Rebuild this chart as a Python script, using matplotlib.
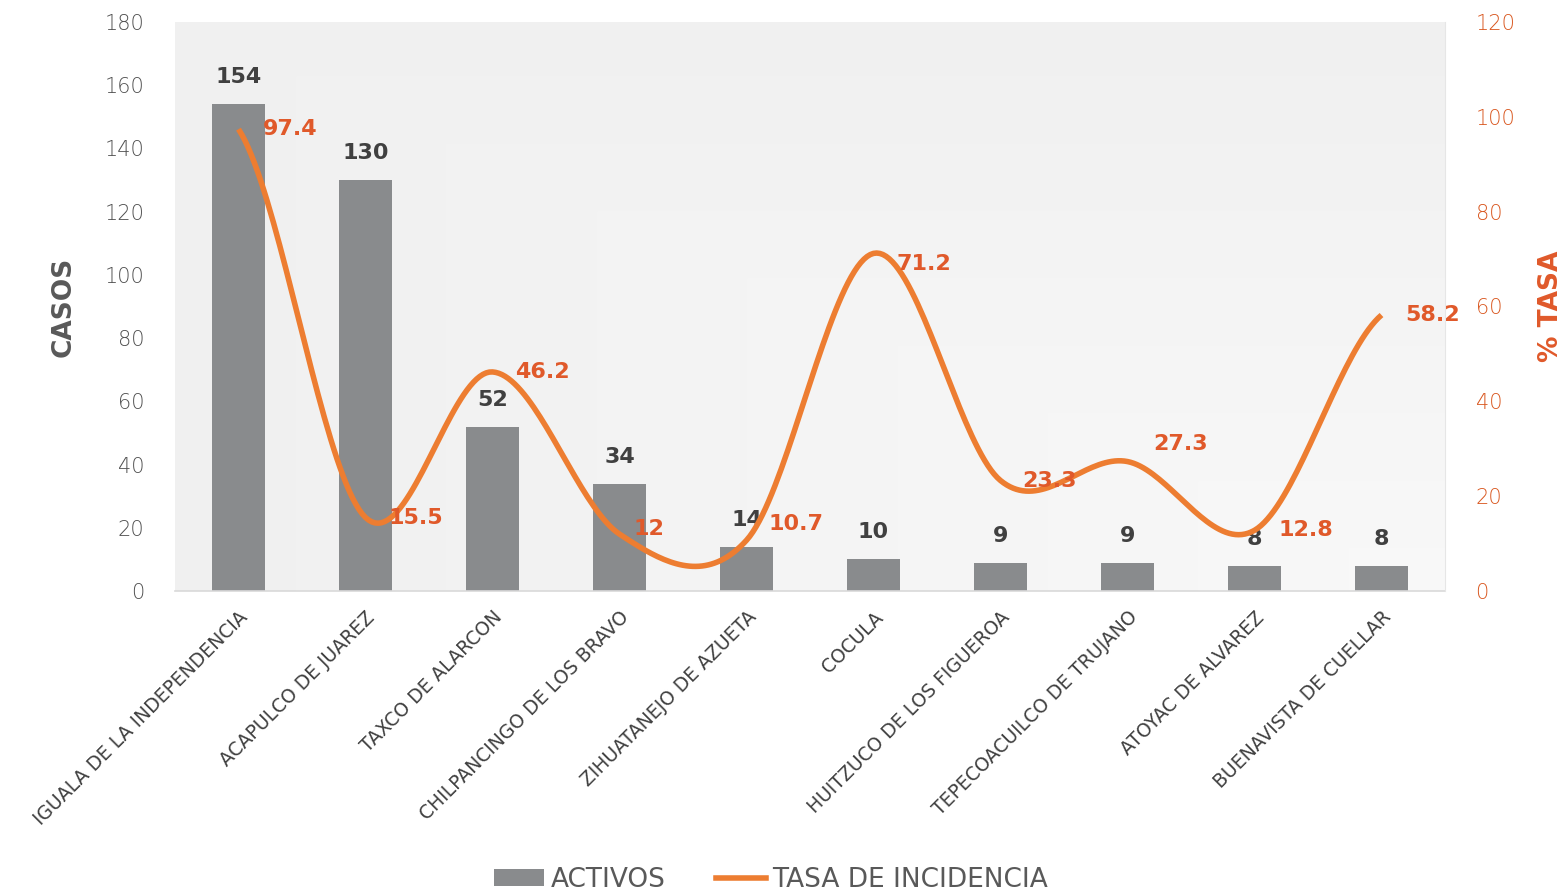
import numpy as np
import matplotlib
matplotlib.use("Agg")
import matplotlib.pyplot as plt
from matplotlib.patches import Patch
from matplotlib.lines import Line2D

categories = ["IGUALA DE LA INDEPENDENCIA", "ACAPULCO DE JUAREZ", "TAXCO DE ALARCON",
              "CHILPANCINGO DE LOS BRAVO", "ZIHUATANEJO DE AZUETA", "COCULA",
              "HUITZUCO DE LOS FIGUEROA", "TEPECOACUILCO DE TRUJANO",
              "ATOYAC DE ALVAREZ", "BUENAVISTA DE CUELLAR"]
activos = [154, 130, 52, 34, 14, 10, 9, 9, 8, 8]
tasa = [97.4, 15.5, 46.2, 12, 10.7, 71.2, 23.3, 27.3, 12.8, 58.2]
left_ticks = [0, 20, 40, 60, 80, 100, 120, 140, 160, 180]
right_ticks = [0, 20, 40, 60, 80, 100, 120]

# label offsets in pixels (style only)
tasa_label_offsets = [(24, 0), (23, 0), (23, 0), (14, 5), (22, 16), (23, -11),
                      (22, 0), (26, 18), (24, 0), (24, 0)]

BAR = "#898B8D"
LINE = "#ED7D31"
ORANGE_TXT = "#E0592A"
GRAY_TXT = "#595959"
DARK_TXT = "#404040"

fig = plt.figure(figsize=(15.63, 8.90), dpi=100)
ax = fig.add_axes([175/1563, 1-591/890, (1445-175)/1563, (591-22)/890])
ax2 = ax.twinx()

# background gradient (rectangular, lighter toward bottom-right)
n = 300
u = np.linspace(0, 1, n)
v = np.linspace(0, 1, n)
U, V = np.meshgrid(u, v)
D = np.maximum(1 - U, V)
c0 = np.array([0.975, 0.975, 0.975])
c1 = np.array([0.942, 0.942, 0.942])
img = c0[None, None, :] * (1 - D[..., None]) + c1[None, None, :] * D[..., None]
ax.imshow(img, extent=[0, 1, 0, 1], transform=ax.transAxes, origin="lower",
          aspect="auto", zorder=0, interpolation="bilinear")

x = np.arange(len(categories))
ax.bar(x, activos, width=0.41, color=BAR, zorder=2)
for xi, val in zip(x, activos):
    ax.annotate(str(val), (xi, val), xytext=(0, 27), textcoords="offset pixels",
                ha="center", va="center", fontsize=16, fontweight="bold",
                color=DARK_TXT, zorder=5)

ax.set_xlim(-0.5, len(categories) - 0.5)
ax.set_ylim(0, 180)
ax.set_yticks(left_ticks)
ax2.set_ylim(0, 120)
ax2.set_yticks(right_ticks)

# Catmull-Rom smoothing of the line (Excel-style smoothed line)
t_vals = np.array(tasa, dtype=float)
xs, ys = [], []
npts = len(t_vals)
for i in range(npts - 1):
    p0 = t_vals[i - 1] if i > 0 else t_vals[i]
    p1 = t_vals[i]
    p2 = t_vals[i + 1]
    p3 = t_vals[i + 2] if i + 2 < npts else t_vals[i + 1]
    m1 = (p2 - p0) / 2.0
    m2 = (p3 - p1) / 2.0
    tt = np.linspace(0, 1, 40, endpoint=(i == npts - 2))
    h00 = 2*tt**3 - 3*tt**2 + 1
    h10 = tt**3 - 2*tt**2 + tt
    h01 = -2*tt**3 + 3*tt**2
    h11 = tt**3 - tt**2
    xs.extend(x[i] + tt)
    ys.extend(h00*p1 + h10*m1 + h01*p2 + h11*m2)
ax2.plot(xs, ys, color=LINE, lw=4, solid_capstyle="butt", zorder=4)

for xi, val, (dx, dy) in zip(x, tasa, tasa_label_offsets):
    ax2.annotate(f"{val:g}", (xi, val), xytext=(dx, dy), textcoords="offset pixels",
                 ha="left", va="center", fontsize=16, fontweight="bold",
                 color=ORANGE_TXT, zorder=6)

ax.set_zorder(1)
ax2.set_zorder(2)
ax2.patch.set_visible(False)

for a in (ax, ax2):
    for s in a.spines.values():
        s.set_visible(False)
ax.spines["bottom"].set_visible(True)
ax.spines["bottom"].set_color("#d9d9d9")
ax.spines["bottom"].set_linewidth(1.2)
ax2.spines["right"].set_visible(True)
ax2.spines["right"].set_color("#e6e6e6")

ax.tick_params(axis="y", length=0, pad=22, labelsize=15, labelcolor="#505050")
ax2.tick_params(axis="y", length=0, pad=22, labelsize=15, labelcolor="#D9571F")
for lab in ax.get_yticklabels():
    lab.set_fontweight("light")
for lab in ax2.get_yticklabels():
    lab.set_fontweight("light")

ax.set_xticks(x)
ax.set_xticklabels(categories, rotation=45, ha="right", va="top",
                   rotation_mode="anchor", fontsize=13.5, color=DARK_TXT)
ax.tick_params(axis="x", length=0, pad=12)

ax.set_ylabel("CASOS", fontsize=19, fontweight="bold", color=GRAY_TXT, labelpad=20)
ax2.set_ylabel("% TASA", fontsize=19, fontweight="bold", color=ORANGE_TXT, labelpad=16)

handles = [Patch(facecolor=BAR, edgecolor="none"),
           Line2D([0], [0], color=LINE, lw=4)]
fig.legend(handles, ["ACTIVOS", "TASA DE INCIDENCIA"], loc="center",
           bbox_to_anchor=(771/1563, 1-880/890), ncol=2, frameon=False,
           fontsize=19, labelcolor=GRAY_TXT, handlelength=1.9, handletextpad=0.25,
           columnspacing=1.9, handleheight=0.6)

fig.savefig("out.png", dpi=100, facecolor="white")
